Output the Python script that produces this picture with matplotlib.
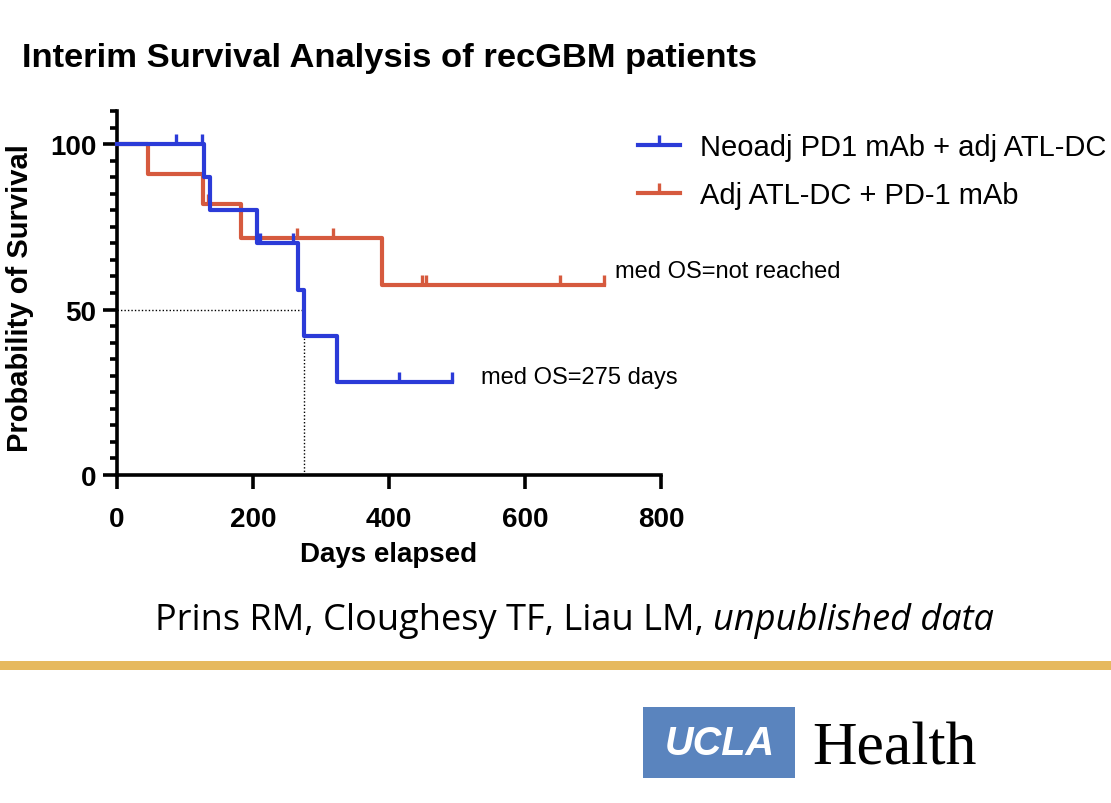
import matplotlib
matplotlib.use("Agg")
import matplotlib.pyplot as plt
from matplotlib.path import Path
from matplotlib.patches import Rectangle
from matplotlib.lines import Line2D
from matplotlib.ticker import FixedLocator, MultipleLocator

# Kaplan-Meier curves (days, % surviving)
neo_days = [0, 128, 137, 206, 266, 275, 323, 492]
neo_surv = [100, 90, 80, 70, 56, 42, 28, 28]
neo_cens_days = [87, 125, 210, 259, 415, 492]
neo_cens_surv = [100, 100, 70, 70, 28, 28]

adj_days = [0, 45, 126, 182, 389, 716]
adj_surv = [100, 90.9, 81.8, 71.6, 57.3, 57.3]
adj_cens_days = [134, 264, 318, 449, 454, 652, 716]
adj_cens_surv = [81.8, 71.6, 71.6, 57.3, 57.3, 57.3, 57.3]

median_days = 275
series_labels = ["Neoadj PD1 mAb + adj ATL-DC", "Adj ATL-DC + PD-1 mAb"]
x_ticks = [0, 200, 400, 600, 800]
y_ticks = [0, 50, 100]

BLUE = "#2B3BD8"
RED = "#D65A3E"
W, H = 1111, 804

plt.rcParams["font.family"] = ["Liberation Sans", "DejaVu Sans"]

fig = plt.figure(figsize=(W / 100, H / 100), dpi=100)
fig.patch.set_facecolor("white")

# axes placed in pixels to match the slide
ax = fig.add_axes([117 / W, 1 - 476 / H, (661 - 117) / W, (476 - 112) / H])
ax.set_xlim(0, 800)
ax.set_ylim(0, 110)

# censor tick: short vertical stroke rising above the curve
tick = Path([(0, 0), (0, 1)], [Path.MOVETO, Path.LINETO])

ax.step(neo_days, neo_surv, where="post", color=BLUE, lw=3, clip_on=False, zorder=4)
ax.plot(neo_cens_days, neo_cens_surv, ls="none", marker=tick, ms=14, mew=2.4,
        color=BLUE, clip_on=False, zorder=4)
ax.step(adj_days, adj_surv, where="post", color=RED, lw=3, clip_on=False, zorder=3)
ax.plot(adj_cens_days, adj_cens_surv, ls="none", marker=tick, ms=14, mew=2.4,
        color=RED, clip_on=False, zorder=3)

# median guide lines
ax.plot([0, median_days], [50, 50], color="black", lw=1, ls=(0, (1, 1.5)), zorder=2)
ax.plot([median_days, median_days], [0, 50], color="black", lw=1, ls=(0, (1, 1.5)), zorder=2)

ax.text(732, 61.5, "med OS=not reached", fontsize=17, va="center", ha="left", clip_on=False)
ax.text(535, 29.5, "med OS=275 days", fontsize=17, va="center", ha="left", clip_on=False)

for s in ["top", "right"]:
    ax.spines[s].set_visible(False)
for s in ["left", "bottom"]:
    ax.spines[s].set_linewidth(2.6)

ax.xaxis.set_major_locator(FixedLocator(x_ticks))
ax.yaxis.set_major_locator(FixedLocator(y_ticks))
ax.yaxis.set_minor_locator(MultipleLocator(5))
ax.tick_params(axis="both", which="major", width=2.6, length=10, direction="out",
               labelsize=20)
ax.tick_params(axis="y", which="minor", width=2.6, length=5, direction="out")
ax.tick_params(axis="x", pad=12)
ax.tick_params(axis="y", pad=5)
for lab in ax.get_xticklabels() + ax.get_yticklabels():
    lab.set_fontweight("bold")

ax.set_xlabel("Days elapsed", fontsize=20, fontweight="bold")
ax.set_ylabel("Probability of Survival", fontsize=21, fontweight="bold")
ax.xaxis.set_label_coords(0.5, (476 - 542) / 364)
ax.yaxis.set_label_coords((34 - 117) / 544, (476 - 298) / 364)

# legend with censor-tick handles
handles = [
    Line2D([], [], color=BLUE, lw=3, marker=tick, ms=14, mew=2.4),
    Line2D([], [], color=RED, lw=3, marker=tick, ms=14, mew=2.4),
]
fig.legend(handles, series_labels, loc="upper left",
           bbox_to_anchor=(638 / W, 1 - 134 / H), bbox_transform=fig.transFigure,
           frameon=False, fontsize=21, handlelength=1.44, handletextpad=0.68,
           labelspacing=0.7, borderpad=0, borderaxespad=0, numpoints=1)

fig.text(22 / W, 1 - 58 / H, "Interim Survival Analysis of recGBM patients",
         fontsize=24.8, fontweight="bold", va="center", ha="left")

# citation line, last part in italics
renderer = fig.canvas.get_renderer()
cy = 1 - 621 / H
t1 = fig.text(155 / W, cy, "Prins RM, Cloughesy TF, Liau LM, ", fontsize=26,
              family="Open Sans", va="center", ha="left")
bb = t1.get_window_extent(renderer)
fig.text(bb.x1 / W, cy, "unpublished data", fontsize=26, family="Open Sans",
         style="italic", va="center", ha="left")

# gold rule
fig.add_artist(Rectangle((0, 1 - 671 / H), 1, 9 / H, transform=fig.transFigure,
                         color="#E6B95E", lw=0))

# logo
fig.add_artist(Rectangle((643 / W, 1 - 779 / H), 152 / W, 71 / H,
                         transform=fig.transFigure, color="#5A84BE", lw=0))
fig.text(720 / W, 1 - 744 / H, "UCLA", color="white", fontsize=28.5,
         fontweight="bold", style="italic", ha="center", va="center")
fig.text(812 / W, 1 - 765 / H, "Health", color="black", fontsize=44.5,
         family="Liberation Serif", ha="left", va="baseline")

fig.savefig("out.png", dpi=100, facecolor="white")
